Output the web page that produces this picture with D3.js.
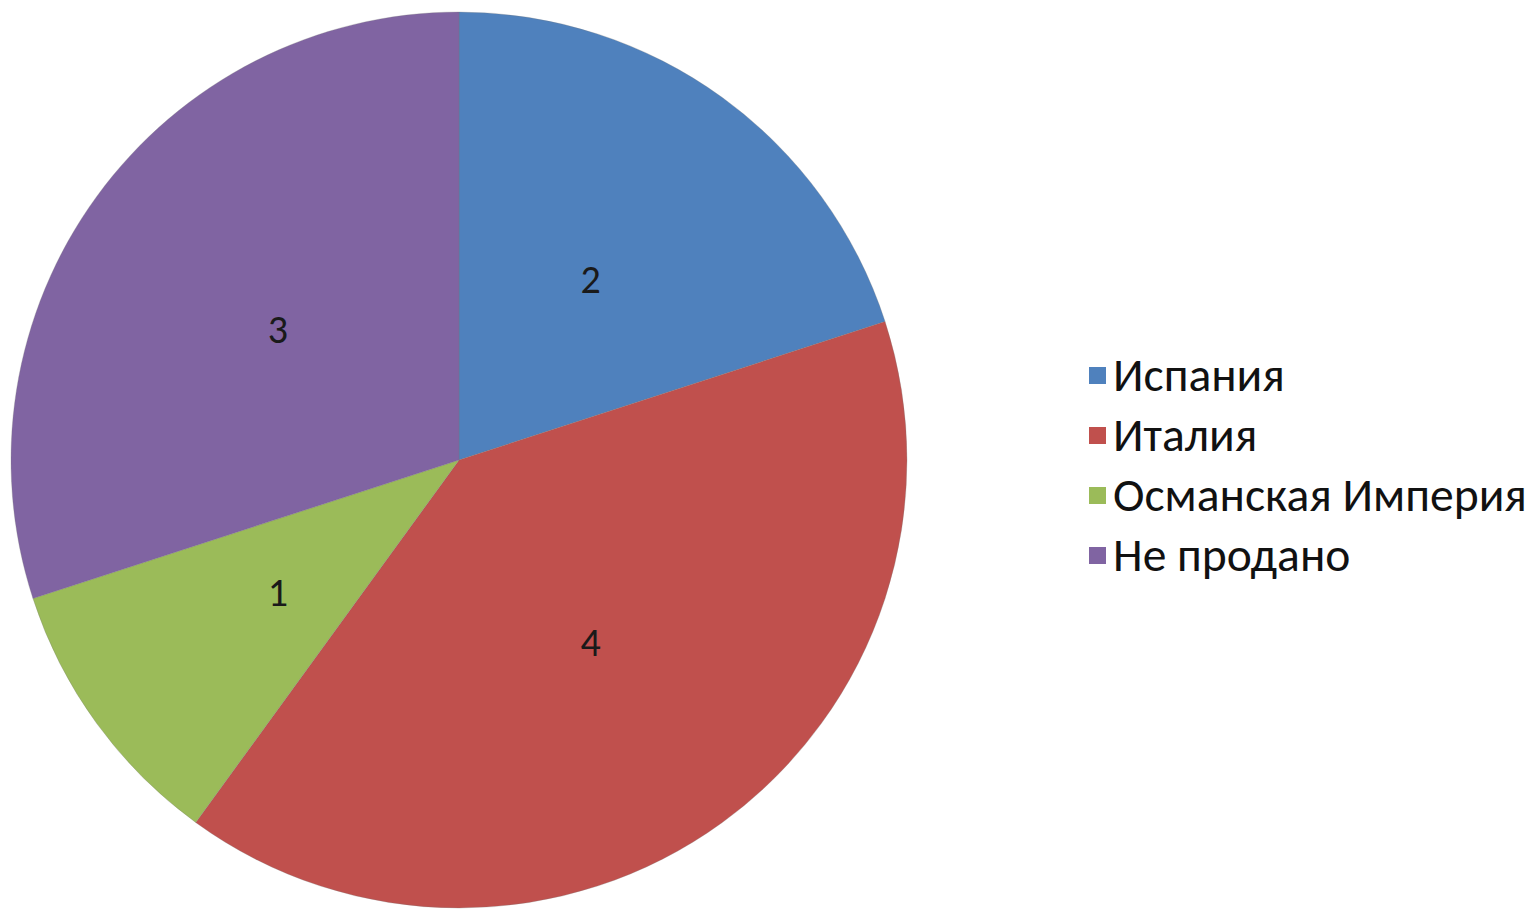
<!DOCTYPE html>
<html><head><meta charset="utf-8">
<script src="https://cdn.jsdelivr.net/npm/d3@7"></script>
<style>html,body{margin:0;padding:0;background:#fff;}svg{display:block;}</style>
</head><body>
<script>
const categories = ["Испания", "Италия", "Османская Империя", "Не продано"];
const values = [2, 4, 1, 3];
const colors = ["#4F81BD", "#C0504D", "#9BBB59", "#8064A2"];

const W = 1537, H = 913;
const cx = 459, cy = 460, R = 448;
const svg = d3.select("body").append("svg").attr("width", W).attr("height", H);
const font = "Carlito, Lato, 'Open Sans', 'Noto Sans', sans-serif";

const pie = d3.pie().sort(null).value(d => d)(values);
const arc = d3.arc().innerRadius(0).outerRadius(R);
const labelArc = d3.arc().innerRadius(R * 0.5).outerRadius(R * 0.5);
const color = d3.scaleOrdinal().domain(categories).range(colors);

const g = svg.append("g").attr("transform", `translate(${cx},${cy})`);
g.selectAll("path").data(pie).join("path")
  .attr("d", arc)
  .attr("fill", (d, i) => color(categories[i]))
  .attr("stroke", "rgba(120,120,120,0.35)").attr("stroke-width", 0.8);

g.selectAll("text").data(pie).join("text")
  .attr("transform", d => `translate(${labelArc.centroid(d)})`)
  .attr("text-anchor", "middle").attr("dy", "0.36em")
  .attr("font-family", font).attr("font-size", 40).attr("fill", "#1a1a1a")
  .text(d => d.data);

const legend = svg.append("g");
const ly = d3.scalePoint().domain(categories).range([375, 555]);
const items = legend.selectAll("g").data(categories).join("g")
  .attr("transform", d => `translate(1089,${ly(d)})`);
items.append("rect").attr("x", 0).attr("y", -8).attr("width", 17).attr("height", 17)
  .attr("fill", d => color(d));
items.append("text").attr("x", 24).attr("dy", "0.33em")
  .attr("font-family", font).attr("font-size", 37).attr("fill", "#111")
  .text(d => d);
// fit the longest legend entry to the reference width, then use that size for all
const longest = items.filter(d => d === "Османская Империя").select("text").node();
const fsAll = 37 * 414 / longest.getComputedTextLength();
items.select("text").attr("font-size", fsAll);
</script>
</body></html>
